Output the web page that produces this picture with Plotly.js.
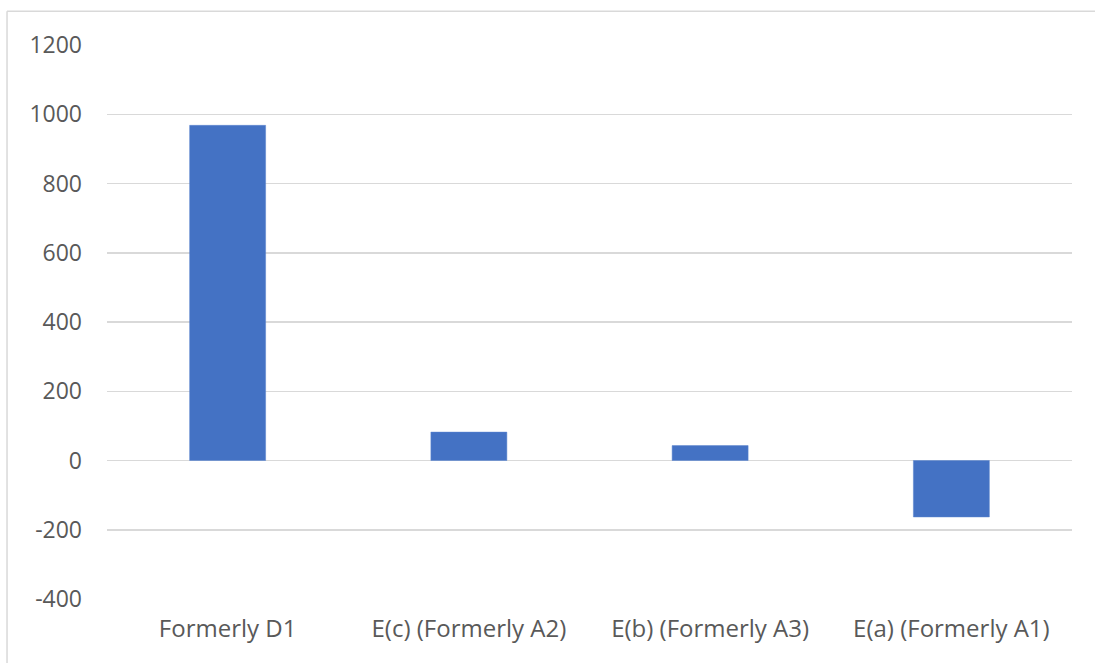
<!DOCTYPE html>
<html>
<head>
<meta charset="utf-8">
<script src="https://cdn.plot.ly/plotly-3.0.1.min.js"></script>
<style>
html,body{margin:0;padding:0;background:#fff;overflow:hidden;}
#chart{width:1095px;height:663px;}
</style>
</head>
<body>
<div id="chart"></div>
<script>
const categories = ["Formerly D1", "E(c) (Formerly A2)", "E(b) (Formerly A3)", "E(a) (Formerly A1)"];
const values = [968, 82, 43, -163];
const yTicks = [-400, -200, 0, 200, 400, 600, 800, 1000, 1200];

const trace = {
  type: 'bar',
  x: categories,
  y: values,
  marker: {color: '#4472C4', line: {color: '#5b85cf', width: 0.5}},
  hoverinfo: 'x+y'
};

const layout = {
  width: 1095,
  height: 663,
  margin: {l: 107, r: 23, t: 45, b: 64},
  paper_bgcolor: '#ffffff',
  plot_bgcolor: '#ffffff',
  showlegend: false,
  bargap: 0.685,
  font: {family: 'Open Sans, sans-serif', size: 23, color: '#595959'},
  xaxis: {
    type: 'category',
    showgrid: false,
    showline: false,
    zeroline: false,
    ticks: '',
    tickfont: {size: 24, color: '#595959'},
    ticklabelstandoff: 13
  },
  yaxis: {
    range: [-400, 1200],
    tickvals: yTicks,
    ticktext: yTicks.map(String),
    showgrid: true,
    gridcolor: '#d9d9d9',
    gridwidth: 1.5,
    zeroline: false,
    showline: false,
    ticks: '',
    tickfont: {size: 23, color: '#595959'},
    ticklabelstandoff: 24
  },
  shapes: [
    {type: 'line', xref: 'paper', yref: 'paper', x0: -0.1036, x1: -0.1036, y0: 1.0608, y1: -0.2, line: {color: '#d9d9d9', width: 1.5}},
    {type: 'line', xref: 'paper', yref: 'paper', x0: -0.1036, x1: 1.1, y0: 1.0608, y1: 1.0608, line: {color: '#d9d9d9', width: 1.5}}
  ]
};

Plotly.newPlot('chart', [trace], layout, {displayModeBar: false, staticPlot: true});
</script>
</body>
</html>
